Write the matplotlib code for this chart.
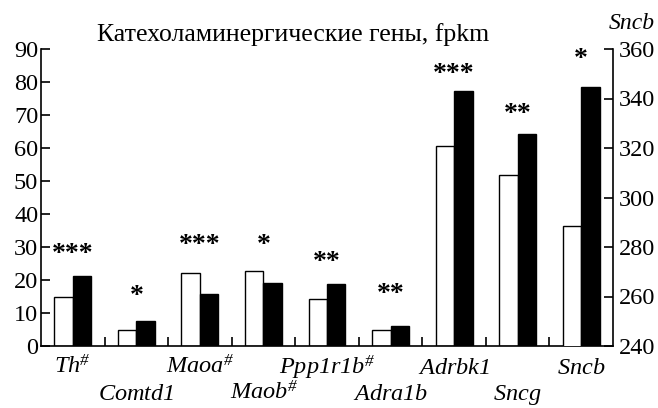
import numpy as np
import matplotlib
matplotlib.use("Agg")
import matplotlib.pyplot as plt

plt.rcParams["font.family"] = ["Liberation Serif", "DejaVu Serif"]
plt.rcParams["mathtext.fontset"] = "custom"
plt.rcParams["mathtext.rm"] = "Liberation Serif:italic"
plt.rcParams["mathtext.it"] = "Liberation Serif:italic"

genes = ["Th", "Comtd1", "Maoa", "Maob", "Ppp1r1b", "Adra1b", "Adrbk1", "Sncg", "Sncb"]
marked = [True, False, True, True, True, False, False, False, False]
control = [15.0, 4.7, 22.0, 22.7, 14.1, 4.8, 60.5, 51.8]
treated = [21.3, 7.7, 15.9, 19.1, 18.8, 6.2, 77.2, 64.1]
sncb_control = 288.3
sncb_treated = 344.6
stars = ["***", "*", "***", "*", "**", "**", "***", "**", "*"]
star_y = [27.7, 14.9, 30.4, 30.4, 25.2, 15.5, 82.4, 70.2, 86.9]

W = 0.29
fig = plt.figure(figsize=(6.58, 4.08), dpi=100)
ax = fig.add_axes([41 / 658, 1 - 346 / 408, 572 / 658, 297 / 408])
ax2 = ax.twinx()

x = np.arange(len(control))
ax.bar(x - W / 2, control, W, color="white", edgecolor="black", linewidth=1.0)
ax.bar(x + W / 2, treated, W, color="black", edgecolor="black", linewidth=1.0)
ax2.bar([8 - W / 2], [sncb_control], W, color="white", edgecolor="black", linewidth=1.0)
ax2.bar([8 + W / 2], [sncb_treated], W, color="black", edgecolor="black", linewidth=1.0)

ax.set_xlim(-0.5, 8.5)
ax.set_ylim(0, 90)
ax2.set_ylim(240, 360)
ax.set_yticks(np.arange(0, 91, 10))
ax2.set_yticks(np.arange(240, 361, 20))

for a in (ax, ax2):
    a.spines["top"].set_visible(False)
    a.spines["left"].set_linewidth(1.2)
    a.spines["right"].set_linewidth(1.2)
    a.spines["bottom"].set_linewidth(1.2)
ax.spines["right"].set_visible(False)
ax2.spines["left"].set_visible(False)
ax2.spines["bottom"].set_visible(False)

ax.tick_params(axis="y", direction="in", length=6.5, width=1.2, labelsize=17.5, pad=2)
ax2.tick_params(axis="y", direction="in", length=6.5, width=1.2, labelsize=17.5, pad=4)
ax.set_xticks([])
ax.set_xticks(np.arange(0.5, 8.5, 1), minor=True)
ax.tick_params(axis="x", which="minor", direction="in", length=6.5, width=1.2)

for i, s in enumerate(stars):
    ax.text(i, star_y[i], s, ha="center", va="center", fontsize=20,
            fontweight="bold")

for i, g in enumerate(genes):
    lab = r"$\mathrm{%s}$" % g
    if marked[i]:
        lab = r"$\mathrm{%s}^{\#}$" % g
    yy = 1 - 374 / 408 if i % 2 == 0 else 1 - 400 / 408
    xf = (41 + (i + 0.5) * 572 / 9) / 658
    fig.text(xf, yy, lab, ha="center", va="baseline", fontsize=17.5)

fig.text(97 / 658, 1 - 41 / 408, "Катехоламинергические гены, fpkm",
         ha="left", va="baseline", fontsize=18.5)
fig.text(609 / 658, 1 - 29 / 408, "Sncb", ha="left", va="baseline",
         fontsize=17, style="italic")

fig.savefig("out.png", dpi=100)
